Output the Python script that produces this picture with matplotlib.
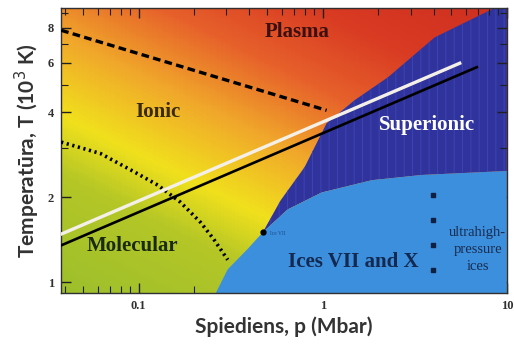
import numpy as np
import matplotlib
matplotlib.use("Agg")
import matplotlib.pyplot as plt
from matplotlib.colors import LinearSegmentedColormap
from matplotlib.ticker import FixedLocator, NullFormatter

# axis ranges (pressure in Mbar, temperature in 10^3 K)
p_lim = [0.038, 10.0]
T_lim = [0.914, 9.4]

# superionic left boundary (p, T)
sup_p = [0.472, 0.591, 0.798, 1.05, 1.49, 2.26, 4.06, 8.6]
sup_T = [1.50, 1.95, 2.56, 3.66, 4.42, 5.33, 7.39, 9.4]

# ices VII/X boundary: melting part then superionic transition
ice_melt_p = [0.237, 0.305, 0.391, 0.472]
ice_melt_T = [0.80, 1.11, 1.31, 1.50]
ice_sup_p = [0.472, 0.645, 0.988, 1.85, 3.45, 10.0]
ice_sup_T = [1.50, 1.81, 2.08, 2.30, 2.40, 2.48]

# molecular / ionic dotted boundary
mol_p = [0.038, 0.0621, 0.0939, 0.127, 0.169, 0.217, 0.256, 0.305]
mol_T = [3.14, 2.86, 2.47, 2.21, 1.92, 1.63, 1.42, 1.20]

# ionic / plasma dashed line
plasma_p = [0.038, 1.05]
plasma_T = [7.83, 4.07]

# isentropes
white_p = [0.038, 5.55]
white_T = [1.48, 5.98]
black_p = [0.038, 6.87]
black_T = [1.35, 5.79]

# ultrahigh-pressure dots
uhp_p = [3.96, 3.96, 3.96, 3.96]
uhp_T = [2.03, 1.66, 1.35, 1.10]

triple_p = [0.472]
triple_T = [1.50]

plt.rcParams['hatch.linewidth'] = 0.7

fig = plt.figure(figsize=(5.14, 3.44), dpi=100)
ax = fig.add_axes([0.119, 0.148, 0.867, 0.829])
ax.set_xscale('log')
ax.set_yscale('log')
ax.set_xlim(p_lim)
ax.set_ylim(T_lim)

# background gradient green -> yellow -> orange -> red
cmap = LinearSegmentedColormap.from_list('bg', [
    (0.0, '#9cbf2c'), (0.24, '#b4c626'), (0.36, '#f0e01c'),
    (0.52, '#f0a82a'), (0.68, '#e6602a'), (0.84, '#d83a22'), (1.0, '#d03020')])
gx = np.logspace(np.log10(p_lim[0]), np.log10(p_lim[1]), 200)
gy = np.logspace(np.log10(T_lim[0]), np.log10(T_lim[1]), 150)
X, Y = np.meshgrid(gx, gy)
u = (np.log10(X) - np.log10(p_lim[0])) / (np.log10(p_lim[1]) - np.log10(p_lim[0]))
v = (np.log10(Y) - np.log10(T_lim[0])) / (np.log10(T_lim[1]) - np.log10(T_lim[0]))
s = np.clip(0.58 * v + 0.45 * u, 0, 1)
ax.pcolormesh(X, Y, s, cmap=cmap, vmin=0, vmax=1, shading='auto', zorder=0)

# superionic region
poly_p = sup_p + [10.0, 10.0] + ice_sup_p[::-1]
poly_T = sup_T + [9.4, 2.48] + ice_sup_T[::-1]
ax.fill(poly_p, poly_T, facecolor='#2f339b', edgecolor='#3c44b4', hatch='||', lw=0, zorder=1)

# ices region
poly_p = ice_melt_p + ice_sup_p[1:] + [10.0]
poly_T = ice_melt_T + ice_sup_T[1:] + [0.80]
ax.fill(poly_p, poly_T, facecolor='#3b8fdc', edgecolor='#3b8fdc', lw=0, zorder=2)

ax.plot(mol_p, mol_T, color='black', lw=2.6, ls=(0, (0.6, 1.0)), zorder=3)
ax.plot(plasma_p, plasma_T, color='black', lw=2.4, ls=(0, (2.3, 1.3)), zorder=3)
ax.plot(black_p, black_T, color='black', lw=1.9, zorder=4)
ax.plot(white_p, white_T, color='#f4f0e8', lw=2.4, zorder=4)
ax.plot(uhp_p, uhp_T, ls='none', marker='s', ms=2.5, color='#102040', zorder=4)
ax.plot(triple_p, triple_T, ls='none', marker='o', ms=3.5, color='black', zorder=5)

serif = 'Liberation Serif'
ax.text(0.73, 7.7, 'Plasma', family=serif, weight='bold', size=15, color='#3a1010',
        ha='center', va='center', zorder=6)
ax.text(0.127, 4.0, 'Ionic', family=serif, weight='bold', size=15, color='#3a2a10',
        ha='center', va='center', zorder=6)
ax.text(3.67, 3.6, 'Superionic', family=serif, weight='bold', size=15, color='white',
        ha='center', va='center', zorder=6)
ax.text(0.0927, 1.34, 'Molecular', family=serif, weight='bold', size=15, color='#1a2a10',
        ha='center', va='center', zorder=6)
ax.text(1.47, 1.18, 'Ices VII and X', family=serif, weight='bold', size=15, color='#142850',
        ha='center', va='center', zorder=6)
ax.text(6.96, 1.31, 'ultrahigh-\npressure\nices', family=serif, size=10.5,
        color='#1a2c50', ha='center', va='center', linespacing=1.4, zorder=6)
ax.text(0.52, 1.49, 'Ice VII', family=serif, size=4, color='#1c4a90',
        ha='left', va='center', zorder=6)

# ticks
ax.xaxis.set_major_locator(FixedLocator([0.1, 1, 10]))
ax.xaxis.set_minor_locator(FixedLocator(
    [k * 10.0 ** e for e in (-2, -1, 0) for k in range(2, 10) if 0.038 <= k * 10.0 ** e <= 10]))
ax.set_xticklabels(['0.1', '1', '10'])
ax.xaxis.set_minor_formatter(NullFormatter())
ax.yaxis.set_major_locator(FixedLocator([1, 2, 4, 6, 8]))
ax.yaxis.set_minor_locator(FixedLocator([3, 5, 7, 9]))
ax.set_yticklabels(['1', '2', '4', '6', '8'])
ax.yaxis.set_minor_formatter(NullFormatter())
ax.tick_params(which='both', direction='in', top=True, right=True, color='#202020')
ax.tick_params(which='major', length=7, width=1, pad=5)
ax.tick_params(which='minor', length=5, width=0.8)
for lab in ax.get_xticklabels() + ax.get_yticklabels():
    lab.set_family(serif)
    lab.set_weight('bold')
    lab.set_fontsize(9)
    lab.set_color('#303030')
for sp in ax.spines.values():
    sp.set_linewidth(1.0)
    sp.set_color('#303030')

ax.set_xlabel('Spiediens, p (Mbar)', family='Lato', weight='bold', size=15,
              color='#333333', labelpad=3)
ax.set_ylabel('Temperatūra, T (10$^3$ K)', family='Lato', weight='bold', size=15,
              color='#333333', labelpad=4)

fig.savefig('out.png', dpi=100)
